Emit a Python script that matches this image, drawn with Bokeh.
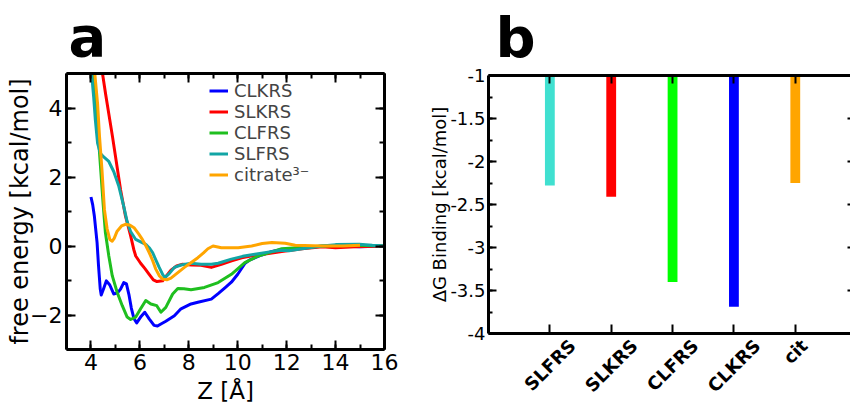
import math
from bokeh.plotting import figure
from bokeh.models import (Range1d, LinearAxis, SingleIntervalTicker, FixedTicker, Legend, LegendItem,
                          NumeralTickFormatter)
from bokeh.layouts import row, column
from bokeh.embed import file_html
from bokeh.resources import INLINE

# ---------------- data: panel a (free energy profiles) ----------------
clkrs_x = [4.0, 4.07, 4.14, 4.25, 4.31, 4.38, 4.42, 4.52, 4.63, 4.77, 4.93, 5.08, 5.21, 5.34, 5.45, 5.55,
           5.65, 5.76, 5.87, 6.03, 6.2, 6.38, 6.58, 6.72, 6.86, 7.06, 7.41, 7.68, 8.09, 8.37, 8.92, 9.2,
           9.5, 9.74, 10.0, 10.3, 10.5, 10.98, 11.4, 11.8, 12.6, 13.4, 14.2, 15.0, 16.0]
clkrs_y = [1.42, 1.2, 0.86, 0.1, -0.58, -1.25, -1.42, -1.23, -1.01, -1.13, -1.39, -1.36, -1.25, -1.06, -1.1, -1.4,
           -1.8, -2.11, -2.23, -2.06, -1.92, -2.11, -2.3, -2.32, -2.26, -2.18, -2.02, -1.82, -1.68, -1.63, -1.54, -1.38,
           -1.2, -1.05, -0.82, -0.5, -0.4, -0.26, -0.16, -0.1, -0.05, -0.01, 0.0, -0.02, 0.0]

slkrs_x = [4.45, 4.6, 4.88, 5.21, 5.41, 5.62, 5.75, 5.83, 6.03, 6.2, 6.38, 6.55, 6.7, 6.93, 7.1, 7.27, 7.5,
           7.75, 8.1, 8.5, 8.92, 9.33, 9.75, 10.16, 10.7, 11.26, 11.8, 12.63, 13.46, 14.0, 14.8, 16.0]
slkrs_y = [5.1, 4.4, 3.17, 1.63, 0.87, 0.3, -0.1, -0.29, -0.5, -0.65, -0.82, -0.98, -1.03, -1.01, -0.85, -0.7, -0.58,
           -0.53, -0.55, -0.56, -0.62, -0.53, -0.43, -0.34, -0.27, -0.22, -0.16, -0.08, -0.02, -0.05, -0.02, 0.0]

clfrs_x = [4.12, 4.2, 4.3, 4.4, 4.5, 4.59, 4.73, 4.87, 5.07, 5.28, 5.48, 5.62, 5.83, 6.03, 6.24, 6.45, 6.69,
           6.86, 7.06, 7.34, 7.55, 7.8, 8.09, 8.64, 9.2, 9.74, 10.29, 10.84, 11.39, 11.8, 12.6, 13.46, 14.5, 16.0]
clfrs_y = [5.1, 4.2, 3.2, 2.2, 1.2, 0.39, -0.29, -0.86, -1.34, -1.73, -2.06, -2.13, -2.06, -1.82, -1.58, -1.68, -1.73,
           -1.92, -1.78, -1.39, -1.23, -1.24, -1.27, -1.2, -1.06, -0.82, -0.48, -0.29, -0.17, -0.08, -0.04, 0.0, 0.03, 0.0]

slfrs_x = [4.02, 4.11, 4.18, 4.27, 4.38, 4.52, 4.73, 4.93, 5.14, 5.34, 5.48, 5.62, 5.83, 6.03, 6.24, 6.38, 6.52,
           6.65, 6.79, 6.95, 7.03, 7.2, 7.41, 7.68, 8.09, 8.5, 8.92, 9.2, 9.74, 10.2, 10.7, 11.3, 11.8, 12.1,
           12.63, 13.46, 14.0, 14.97, 15.5, 16.0]
slfrs_y = [5.05, 4.32, 3.65, 2.98, 2.69, 2.58, 2.45, 2.16, 1.73, 1.15, 0.7, 0.42, 0.19, 0.12, 0.05, -0.05, -0.19,
           -0.4, -0.62, -0.85, -0.91, -0.8, -0.62, -0.55, -0.5, -0.53, -0.53, -0.5, -0.38, -0.3, -0.24, -0.17, -0.12, -0.14,
           -0.08, 0.0, 0.04, 0.05, 0.02, 0.0]

citrate_x = [4.15, 4.27, 4.35, 4.45, 4.55, 4.66, 4.77, 4.87, 4.95, 5.07, 5.25, 5.41, 5.6, 5.76, 5.95, 6.1, 6.25,
             6.38, 6.52, 6.65, 6.8, 6.93, 7.1, 7.27, 7.5, 7.82, 8.1, 8.37, 8.6, 8.78, 8.99, 9.33, 10.02, 10.57,
             11.0, 11.4, 11.94, 12.35, 13.46, 14.3, 15.0]
citrate_y = [5.05, 4.13, 3.17, 2.21, 1.06, 0.5, 0.19, 0.14, 0.22, 0.43, 0.58, 0.63, 0.6, 0.53, 0.35, 0.19, 0.0,
             -0.19, -0.42, -0.67, -0.87, -0.96, -0.98, -0.93, -0.8, -0.62, -0.48, -0.34, -0.2, -0.08, 0.0, -0.05, -0.05, 0.0,
             0.07, 0.1, 0.08, 0.02, 0.0, 0.0, 0.02]

series_names = ["CLKRS", "SLKRS", "CLFRS", "SLFRS", "citrate\u00b3\u207b"]

# ---------------- data: panel b (binding free energies) ----------------
bar_labels = ["SLFRS", "SLKRS", "CLFRS", "CLKRS", "cit"]
bar_values = [-2.28, -2.41, -3.40, -3.69, -2.25]

# ---------------- styles ----------------
FONT = "DejaVu Sans"
line_colors = ["#0000ff", "#ff0000", "#1fbf1f", "#12a5a5", "#ffa500"]
bar_colors = ["#40e0d0", "#ff0000", "#00ff00", "#0000ff", "#ffa500"]


def style_axis(ax, ticker, show_labels, fs, major_in=9, minor_in=5, standoff=3, line=True):
    ax.ticker = ticker
    ax.axis_line_width = 3
    ax.axis_line_color = "black" if line else None
    ax.major_tick_in = major_in
    ax.major_tick_out = 0
    ax.minor_tick_in = minor_in
    ax.minor_tick_out = 0
    ax.major_tick_line_width = 2
    ax.minor_tick_line_width = 2
    ax.major_label_standoff = standoff
    ax.major_label_text_font = FONT
    ax.axis_label_text_font = FONT
    ax.axis_label_text_color = "black"
    ax.axis_label_text_font_style = "normal"
    if show_labels:
        ax.major_label_text_font_size = fs
        ax.major_label_text_color = "black"
    else:
        ax.major_label_text_font_size = "0px"
        ax.major_label_text_color = None
        ax.major_label_standoff = 0


def style_title(t, offset, standoff):
    t.align = "left"
    t.vertical_align = "top"
    t.offset = offset
    t.standoff = standoff
    t.text_font = FONT
    t.text_font_size = "56px"
    t.text_font_style = "bold"
    t.text_color = "black"


# ================= panel a =================
p1 = figure(width=420, height=406, x_range=Range1d(3, 16), y_range=Range1d(-3, 5),
            output_backend="svg", toolbar_location=None, title="a",
            min_border_left=66, min_border_right=36, min_border_top=73, min_border_bottom=56)
p1.outline_line_color = None
for g in p1.grid:
    g.visible = False
style_title(p1.title, 2, 6)

style_axis(p1.xaxis[0], SingleIntervalTicker(interval=2, num_minor_ticks=2), True, "22px", standoff=4)
p1.xaxis[0].axis_label = "Z [\u00c5]"
p1.xaxis[0].axis_label_text_font_size = "23px"
p1.xaxis[0].axis_label_standoff = 5

style_axis(p1.yaxis[0], SingleIntervalTicker(interval=2, num_minor_ticks=2), True, "22px", standoff=4)
p1.yaxis[0].axis_label = "free energy [kcal/mol]"
p1.yaxis[0].axis_label_text_font_size = "24px"
p1.yaxis[0].axis_label_standoff = -7

top1 = LinearAxis()
style_axis(top1, SingleIntervalTicker(interval=2, num_minor_ticks=2), False, "0px")
p1.add_layout(top1, "above")
right1 = LinearAxis()
style_axis(right1, SingleIntervalTicker(interval=2, num_minor_ticks=2), False, "0px")
p1.add_layout(right1, "right")

xs = [clkrs_x, slkrs_x, clfrs_x, slfrs_x, citrate_x]
ys = [clkrs_y, slkrs_y, clfrs_y, slfrs_y, citrate_y]
items = []
for name, x, y, c in zip(series_names, xs, ys, line_colors):
    r = p1.line(x, y, line_color=c, line_width=3, line_join="round")
    items.append(LegendItem(label=name, renderers=[r]))

leg = Legend(items=items, location=(143, 164), border_line_color=None, background_fill_alpha=0,
             padding=0, margin=0, spacing=0, glyph_width=19, glyph_height=21, label_height=21,
             label_standoff=6, label_text_font=FONT, label_text_font_size="18px")
p1.add_layout(leg)

# ================= panel b =================
positions = list(range(1, len(bar_labels) + 1))
X_END = 5.9
p2 = figure(width=430, height=406, x_range=Range1d(0, X_END), y_range=Range1d(-4, -1),
            output_backend="svg", toolbar_location=None, title="b",
            min_border_left=68, min_border_right=0, min_border_top=75, min_border_bottom=72)
p2.outline_line_color = None
for g in p2.grid:
    g.visible = False
style_title(p2.title, 7, 8)

p2.vbar(x=positions, width=0.16, top=-1, bottom=bar_values, fill_color=bar_colors, line_color=None)

style_axis(p2.xaxis[0], FixedTicker(ticks=positions, minor_ticks=[]), False, "0px")
style_axis(p2.yaxis[0], SingleIntervalTicker(interval=0.5, num_minor_ticks=2), True, "18px",
           major_in=8, minor_in=4, standoff=3)
p2.yaxis[0].formatter = NumeralTickFormatter(format="0[.][0]")
p2.yaxis[0].axis_label = "\u0394G Binding [kcal/mol]"
p2.yaxis[0].axis_label_text_font_size = "18px"
p2.yaxis[0].axis_label_standoff = -3

top2 = LinearAxis()
style_axis(top2, FixedTicker(ticks=positions, minor_ticks=[]), False, "0px", major_in=8)
p2.add_layout(top2, "above")
right2 = LinearAxis()
style_axis(right2, SingleIntervalTicker(interval=0.5, num_minor_ticks=0), False, "0px", major_in=3, line=False)
p2.add_layout(right2, "right")

# rotated category labels, centred under their bars (grace style):
# a second, line-less bottom axis whose ticks are shifted by half the projected label length
BOLD_W = {"S": 0.72, "L": 0.637, "F": 0.683, "R": 0.770, "K": 0.775, "C": 0.734,
          "c": 0.593, "i": 0.343, "t": 0.478}
LABEL_FS = 18
px_per_unit = (430 - 68) / X_END
def text_len(s):
    return LABEL_FS * sum(BOLD_W.get(ch, 0.7) for ch in s)
label_ticks = [round(p + 0.3535 * text_len(s) / px_per_unit, 4) for p, s in zip(positions, bar_labels)]
cat_axis = LinearAxis()
style_axis(cat_axis, FixedTicker(ticks=label_ticks, minor_ticks=[]), True, f"{LABEL_FS}px",
           major_in=0, minor_in=0, standoff=9, line=False)
cat_axis.major_label_text_font_style = "bold"
cat_axis.major_label_orientation = math.pi / 4
cat_axis.major_label_overrides = {t: s for t, s in zip(label_ticks, bar_labels)}
p2.add_layout(cat_axis, "below")

layout = row(column(p1), column(p2))
open("out.html", "w").write(file_html(layout, INLINE))
